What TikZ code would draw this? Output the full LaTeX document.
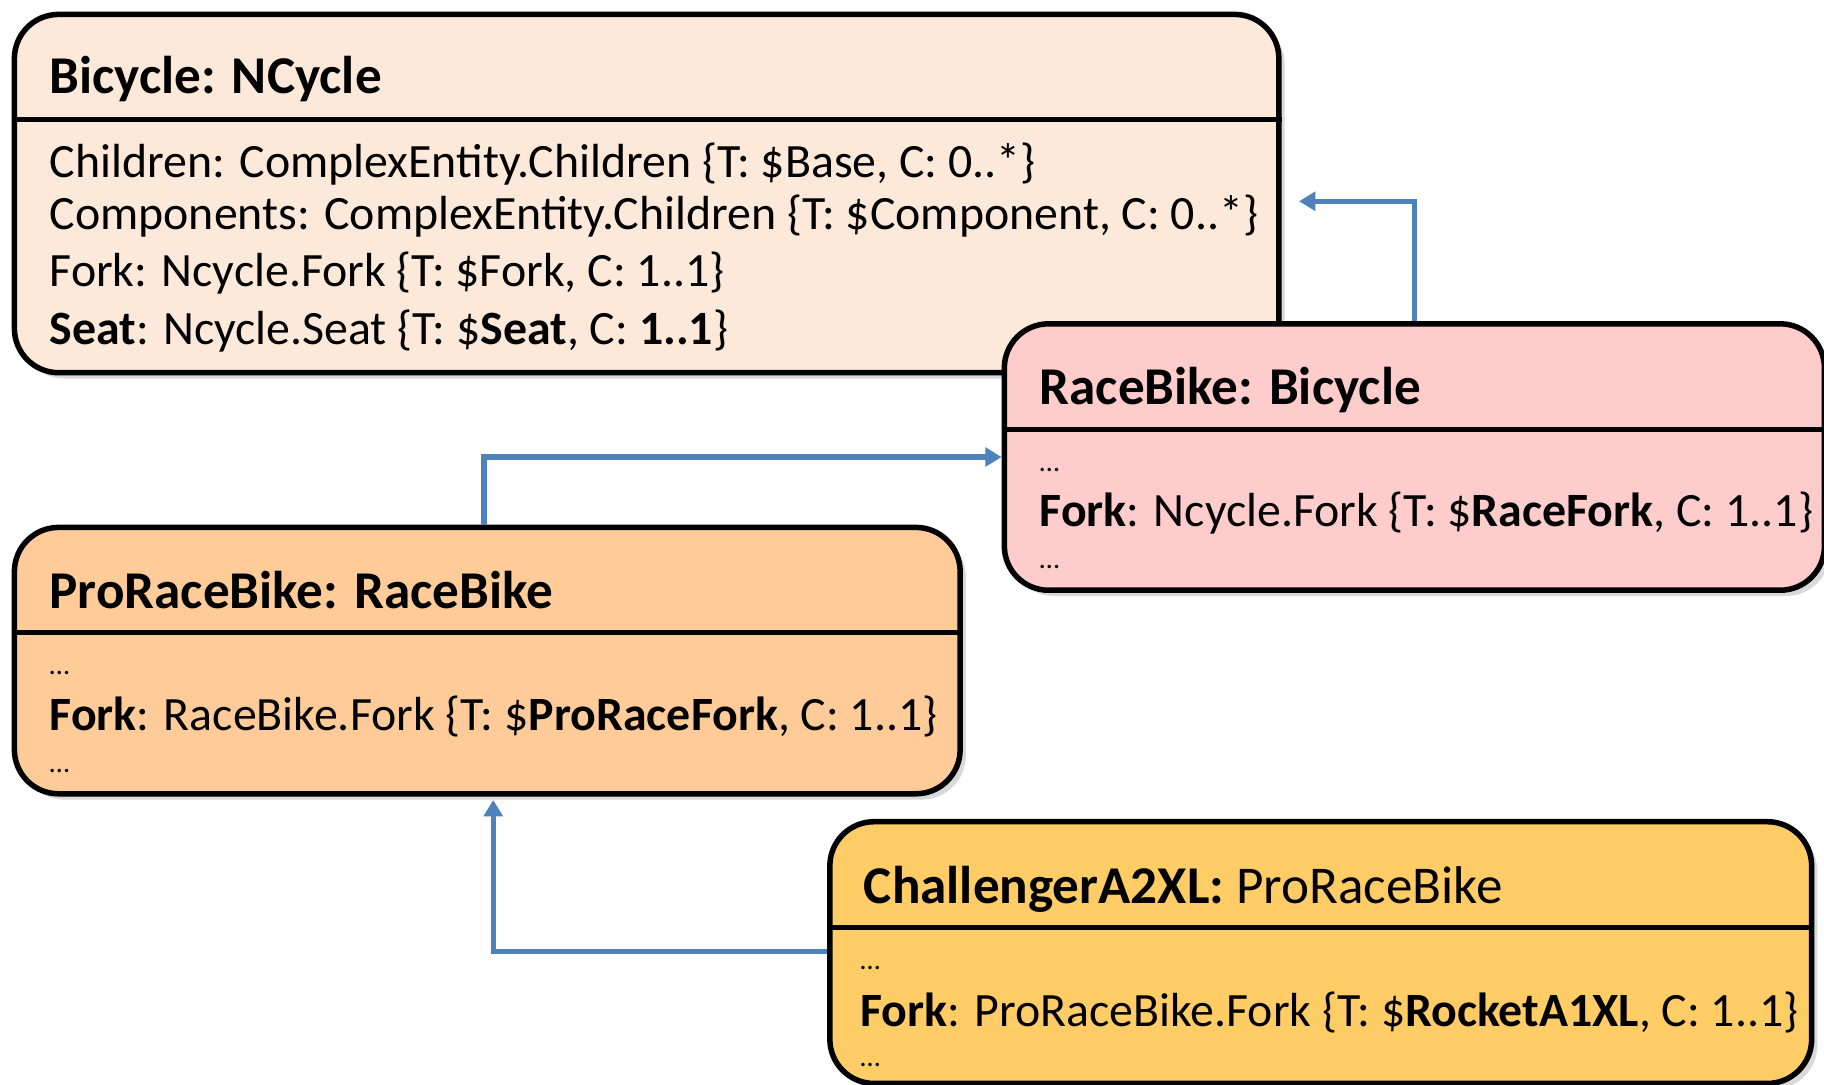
\documentclass[tikz,border=0pt]{standalone}
\usepackage{fontspec}
\setmainfont{Carlito}
\usepackage{tikz}
\usetikzlibrary{arrows.meta,positioning,calc,shadows}
\definecolor{bikepeach}{HTML}{FDE9D9}
\definecolor{racepink}{HTML}{FFCCCC}
\definecolor{proorange}{HTML}{FFCC99}
\definecolor{challgold}{HTML}{FFCC66}
\definecolor{linkblue}{HTML}{4F81BD}

\begin{document}
\begin{tikzpicture}[
    classbox/.style={draw=black, line width=1.35pt, rounded corners=0.38cm,
                     anchor=north west, inner sep=0pt,
                     drop shadow={shadow xshift=0.05cm, shadow yshift=-0.05cm,
                                  opacity=0.25, fill=black!60}},
    divider/.style={draw=black, line width=1.25pt},
    titletxt/.style={anchor=base west, inner sep=0pt,
                     font=\bfseries\fontsize{13}{15}\selectfont},
    bodytxt/.style={anchor=base west, inner sep=0pt,
                    font=\fontsize{11.7}{14}\selectfont},
    dotstxt/.style={anchor=base west, inner sep=0pt,
                    font=\fontsize{7}{8}\selectfont},
    inherit/.style={-{Triangle[length=0.14cm, width=0.16cm]},
                    line width=1.3pt, draw=linkblue},
  ]
    \useasboundingbox (0,0) rectangle (15.68,-9.32);

    % Bicycle
    \node[classbox, fill=bikepeach, minimum width=10.87cm, minimum height=3.08cm]
      (bicycle) at (0.10,-0.10) {};
    \draw[divider] ($(bicycle.north west)+(0,-0.93)$) -- ($(bicycle.north east)+(0,-0.93)$);
    \node[titletxt] (bicycletitle) at ($(bicycle.north west)+(0.32,-0.70)$) {Bicycle: NCycle};
    \node[bodytxt] (bicyclechildren) at ($(bicycle.north west)+(0.32,-1.43)$)
      {Children: ComplexEntity.Children \{T: \$Base, C: 0..*\}};
    \node[bodytxt] (bicyclecomp) at ($(bicycle.north west)+(0.32,-1.87)$)
      {Components: ComplexEntity.Children \{T: \$Component, C: 0..*\}};
    \node[bodytxt] (bicyclefork) at ($(bicycle.north west)+(0.32,-2.36)$)
      {Fork: Ncycle.Fork \{T: \$Fork, C: 1..1\}};
    \node[bodytxt] (bicycleseat) at ($(bicycle.north west)+(0.32,-2.86)$)
      {\textbf{Seat}: Ncycle.Seat \{T: \$\textbf{Seat}, C: \textbf{1..1}\}};

    % RaceBike
    \node[classbox, fill=racepink, minimum width=7.05cm, minimum height=2.29cm]
      (racebike) at (8.61,-2.76) {};
    \draw[divider] ($(racebike.north west)+(0,-0.93)$) -- ($(racebike.north east)+(0,-0.93)$);
    \node[titletxt] (racetitle) at ($(racebike.north west)+(0.32,-0.72)$) {RaceBike: Bicycle};
    \node[dotstxt] (racedotsa) at ($(racebike.north west)+(0.32,-1.29)$) {…};
    \node[bodytxt] (racefork) at ($(racebike.north west)+(0.32,-1.77)$)
      {\textbf{Fork}: Ncycle.Fork \{T: \$\textbf{RaceFork}, C: 1..1\}};
    \node[dotstxt] (racedotsb) at ($(racebike.north west)+(0.32,-2.13)$) {…};

    % ProRaceBike
    \node[classbox, fill=proorange, minimum width=8.13cm, minimum height=2.29cm]
      (proracebike) at (0.10,-4.51) {};
    \draw[divider] ($(proracebike.north west)+(0,-0.93)$) -- ($(proracebike.north east)+(0,-0.93)$);
    \node[titletxt] (protitle) at ($(proracebike.north west)+(0.32,-0.72)$) {ProRaceBike: RaceBike};
    \node[dotstxt] (prodotsa) at ($(proracebike.north west)+(0.32,-1.29)$) {…};
    \node[bodytxt] (profork) at ($(proracebike.north west)+(0.32,-1.77)$)
      {\textbf{Fork}: RaceBike.Fork \{T: \$\textbf{ProRaceFork}, C: 1..1\}};
    \node[dotstxt] (prodotsb) at ($(proracebike.north west)+(0.32,-2.13)$) {…};

    % ChallengerA2XL
    \node[classbox, fill=challgold, minimum width=8.44cm, minimum height=2.25cm]
      (challenger) at (7.11,-7.04) {};
    \draw[divider] ($(challenger.north west)+(0,-0.93)$) -- ($(challenger.north east)+(0,-0.93)$);
    \node[titletxt] (challtitle) at ($(challenger.north west)+(0.31,-0.73)$)
      {ChallengerA2XL: \mdseries ProRaceBike};
    \node[dotstxt] (challdotsa) at ($(challenger.north west)+(0.28,-1.29)$) {…};
    \node[bodytxt] (challfork) at ($(challenger.north west)+(0.28,-1.78)$)
      {\textbf{Fork}: ProRaceBike.Fork \{T: \$\textbf{RocketA1XL}, C: 1..1\}};
    \node[dotstxt] (challdotsb) at ($(challenger.north west)+(0.28,-2.13)$) {…};

    % Inheritance links
    \draw[inherit] ([xshift=3.55cm]racebike.north west)
      |- ([xshift=0.15cm, yshift=-1.63cm]bicycle.north east);
    \draw[inherit] ([xshift=4.06cm]proracebike.north west) |- (racebike.west);
    \draw[inherit] ([yshift=-1.14cm]challenger.north west)
      -| ([xshift=4.14cm, yshift=-0.03cm]proracebike.south west);
  \end{tikzpicture}
\end{document}
